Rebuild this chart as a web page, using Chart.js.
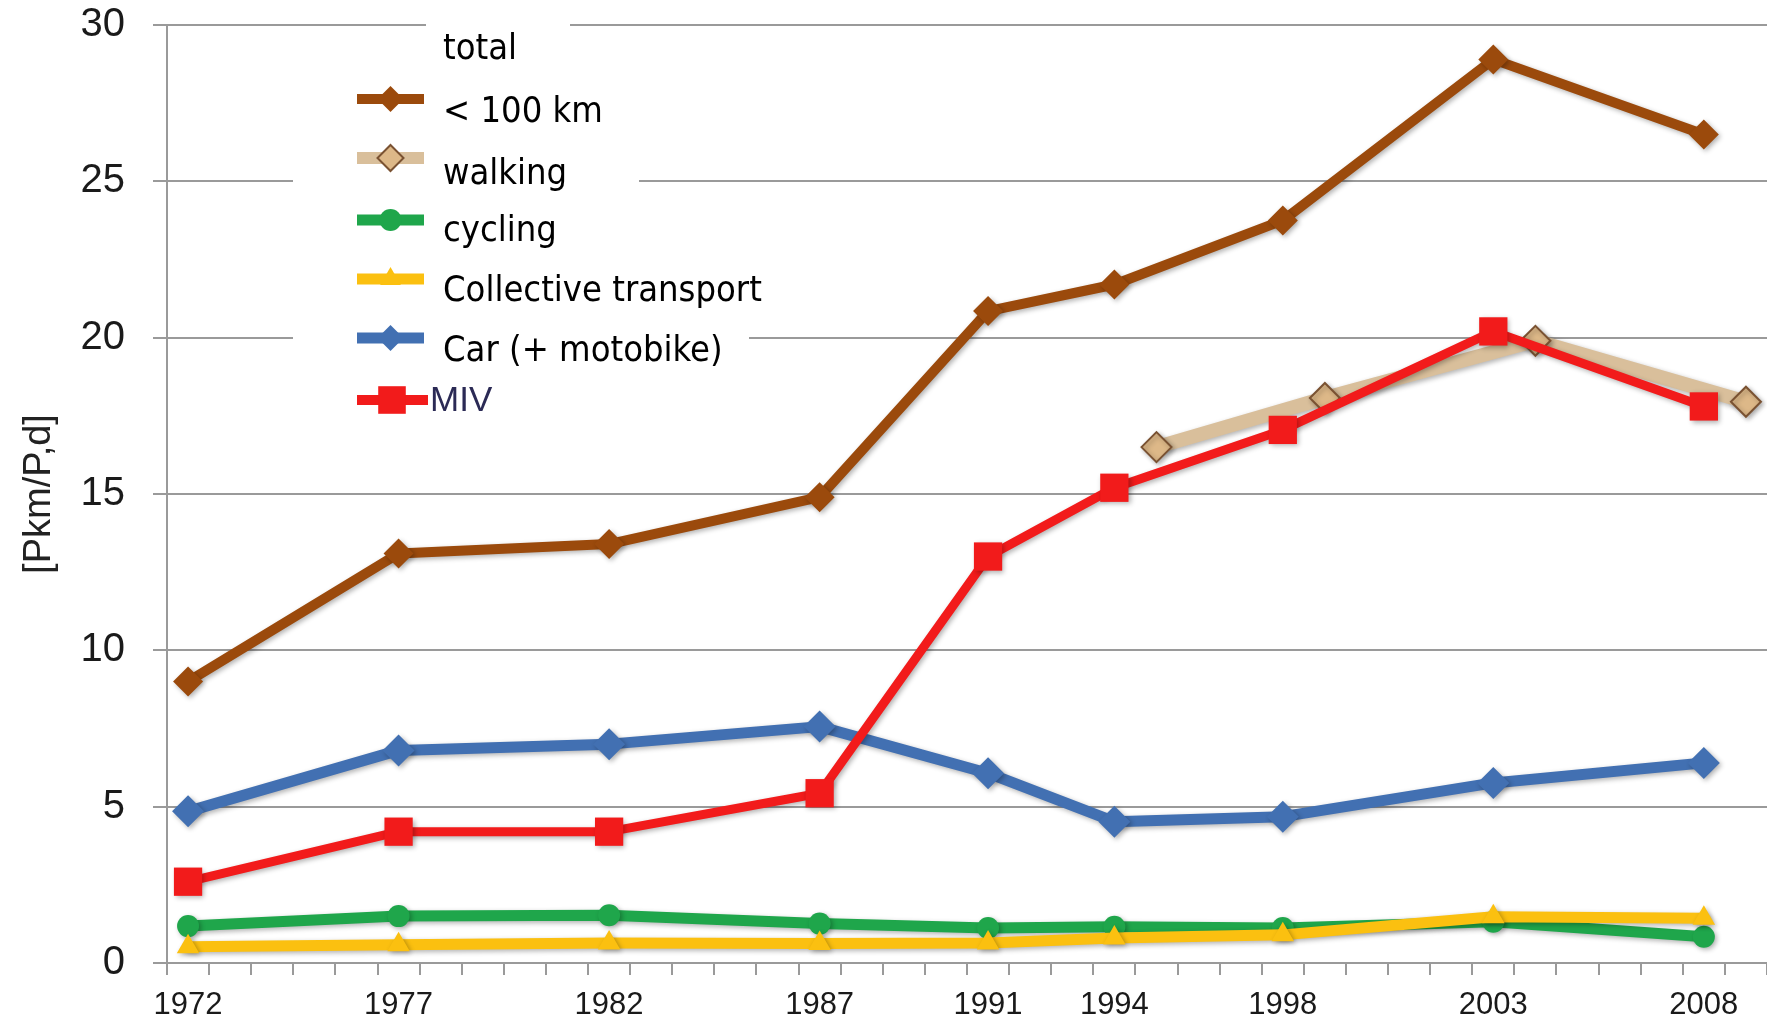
<!DOCTYPE html>
<html>
<head>
<meta charset="utf-8">
<script src="https://cdn.jsdelivr.net/npm/chart.js@4/dist/chart.umd.min.js"></script>
<style>
  html, body { margin: 0; padding: 0; background: #ffffff; }
  #wrap { width: 1767px; height: 1026px; position: relative; }
</style>
</head>
<body>
<div id="wrap"><canvas id="c" width="1767" height="1026"></canvas></div>
<script>
// ---------- data ----------
const years = [1972, 1977, 1982, 1987, 1991, 1994, 1998, 2003, 2008];
const walkingYears = [1995, 1999, 2004, 2009];
const totalValues = [9.0, 13.1, 13.4, 14.9, 20.85, 21.7, 23.75, 28.9, 26.5];
const walkingValues = [16.5, 18.07, 19.9, 17.95];
const cyclingValues = [1.18, 1.5, 1.53, 1.26, 1.12, 1.16, 1.12, 1.32, 0.84];
const collectiveValues = [0.52, 0.58, 0.64, 0.62, 0.64, 0.8, 0.9, 1.48, 1.43];
const carValues = [4.85, 6.8, 7.0, 7.56, 6.07, 4.52, 4.68, 5.76, 6.4];
const mivValues = [2.6, 4.2, 4.2, 5.43, 13.0, 15.2, 17.05, 20.2, 17.8];
const xLabelYears = [1972, 1977, 1982, 1987, 1991, 1994, 1998, 2003, 2008];
const yTickValues = [0, 5, 10, 15, 20, 25, 30];
const legendLabels = ['total', '< 100 km', 'walking', 'cycling', 'Collective transport', 'Car (+ motobike)', 'MIV'];
const yAxisTitle = '[Pkm/P,d]';

// ---------- fonts ----------
function fontAvailable(name) {
  const cv = document.createElement('canvas').getContext('2d');
  const s = 'abcdefghijklmnopqrstuvwxyz0123456789ABCDEFGHIJ';
  const res = [];
  for (const fb of ['monospace', 'serif']) {
    cv.font = '72px ' + fb; const a = cv.measureText(s).width;
    cv.font = '72px "' + name + '", ' + fb; const b = cv.measureText(s).width;
    res.push(a !== b);
  }
  return res[0] || res[1];
}
const hasNarrow = fontAvailable('Liberation Sans Narrow');
const hasCond = fontAvailable('DejaVu Sans Condensed');
const narrowFamily = hasNarrow ? '"Liberation Sans Narrow", "Liberation Sans", Arial, sans-serif' : '"Liberation Sans", Arial, sans-serif';
const yTickSize = hasNarrow ? 44 : 40;
const xTickSize = hasNarrow ? 35 : 31;
const legendFamily = hasCond ? '"DejaVu Sans Condensed", "DejaVu Sans", sans-serif' : '"DejaVu Sans", sans-serif';
const legendSize = hasCond ? 36 : 33;
const mivSize = hasNarrow ? 42 : 35;

// ---------- colors ----------
const BROWN = '#9B4A0C';
const TAN = '#D9BF9B';
const TAN_FILL = '#DDB888';
const TAN_EDGE = '#7A5232';
const GREEN = '#1FA64B';
const YELLOW = '#FBC010';
const BLUE = '#4270B2';
const RED = '#F21B1B';
const GRID = '#9a9a9a';

const pts = (xs, ys) => xs.map((x, i) => ({ x: x, y: ys[i] }));

const datasets = [
  { label: 'total < 100 km', data: pts(years, totalValues), borderColor: BROWN, backgroundColor: BROWN,
    borderWidth: 10, pointStyle: 'rectRot', pointRadius: 15, pointBorderWidth: 0, order: 2 },
  { label: 'walking', data: pts(walkingYears, walkingValues), borderColor: TAN, backgroundColor: TAN_FILL,
    borderWidth: 14, pointStyle: 'rectRot', pointRadius: 15, pointBorderWidth: 2, pointBorderColor: TAN_EDGE, order: 6 },
  { label: 'cycling', data: pts(years, cyclingValues), borderColor: GREEN, backgroundColor: GREEN,
    borderWidth: 11, pointStyle: 'circle', pointRadius: 11, pointBorderWidth: 0, order: 4 },
  { label: 'Collective transport', data: pts(years, collectiveValues), borderColor: YELLOW, backgroundColor: YELLOW,
    borderWidth: 11, pointStyle: 'triangle', pointRadius: 13, pointBorderWidth: 0, order: 3 },
  { label: 'Car (+ motobike)', data: pts(years, carValues), borderColor: BLUE, backgroundColor: BLUE,
    borderWidth: 11, pointStyle: 'rectRot', pointRadius: 16, pointBorderWidth: 0, order: 5 },
  { label: 'MIV', data: pts(years, mivValues), borderColor: RED, backgroundColor: RED,
    borderWidth: 9, pointStyle: 'rect', pointRadius: 20, pointBorderWidth: 0, order: 1 }
];
datasets.forEach(d => { d.xAxisID = 'x'; d.yAxisID = 'y'; d.tension = 0; d.fill = false; d.clip = false;
  d.pointHoverRadius = d.pointRadius; d.borderJoinStyle = 'round'; d.borderCapStyle = 'round';
  if (!d.pointBorderColor) d.pointBorderColor = d.backgroundColor; });

// ---------- helpers ----------
function drawMarker(ctx, style, x, y, r, fill, stroke, bw) {
  ctx.beginPath();
  if (style === 'rectRot') {
    ctx.moveTo(x, y - r); ctx.lineTo(x + r, y); ctx.lineTo(x, y + r); ctx.lineTo(x - r, y); ctx.closePath();
  } else if (style === 'rect') {
    const h = r * Math.SQRT1_2; ctx.rect(x - h, y - h, 2 * h, 2 * h);
  } else if (style === 'circle') {
    ctx.arc(x, y, r, 0, Math.PI * 2);
  } else if (style === 'triangle') {
    ctx.moveTo(x, y - r); ctx.lineTo(x + r * 0.866, y + r * 0.5); ctx.lineTo(x - r * 0.866, y + r * 0.5); ctx.closePath();
  }
  ctx.fillStyle = fill; ctx.fill();
  if (bw > 0) { ctx.lineWidth = bw; ctx.strokeStyle = stroke; ctx.stroke(); }
}

const shadowPlugin = {
  id: 'softShadow',
  beforeDatasetDraw(chart) {
    const ctx = chart.ctx; ctx.save();
    ctx.shadowColor = 'rgba(0,0,0,0.30)'; ctx.shadowBlur = 5; ctx.shadowOffsetX = 2; ctx.shadowOffsetY = 2;
  },
  afterDatasetDraw(chart) { chart.ctx.restore(); }
};

const legendPlugin = {
  id: 'boxLegend',
  beforeDatasetsDraw(chart) {
    const ctx = chart.ctx; ctx.save(); ctx.fillStyle = '#ffffff';
    ctx.fillRect(426, 10, 144, 62);
    ctx.fillRect(293, 72, 346, 238);
    ctx.fillRect(293, 310, 456, 112);
    ctx.restore();
  },
  afterDatasetsDraw(chart) {
    const ctx = chart.ctx; ctx.save();
    const ds = chart.data.datasets;
    const symX0 = 357, symX1 = 424, textX = 443;
    ctx.font = legendSize + 'px ' + legendFamily;
    ctx.fillStyle = '#000'; ctx.textBaseline = 'middle'; ctx.textAlign = 'left';
    ctx.fillText(legendLabels[0], textX, 50);
    const rows = [
      { d: 0, label: legendLabels[1], my: 99, ty: 113 },
      { d: 1, label: legendLabels[2], my: 158, ty: 175 },
      { d: 2, label: legendLabels[3], my: 220, ty: 232 },
      { d: 3, label: legendLabels[4], my: 279, ty: 292 },
      { d: 4, label: legendLabels[5], my: 338, ty: 352 }
    ];
    rows.forEach(r => {
      const d = ds[r.d];
      ctx.lineCap = 'butt';
      ctx.strokeStyle = d.borderColor; ctx.lineWidth = Math.min(d.borderWidth, 12);
      ctx.beginPath(); ctx.moveTo(symX0, r.my); ctx.lineTo(symX1, r.my); ctx.stroke();
      const rr = d.pointStyle === 'rectRot' ? 13 : (d.pointStyle === 'triangle' ? 12 : 11);
      drawMarker(ctx, d.pointStyle, (symX0 + symX1) / 2, r.my, rr, d.backgroundColor, d.pointBorderColor, d.pointBorderWidth);
      ctx.font = legendSize + 'px ' + legendFamily; ctx.fillStyle = '#000';
      ctx.fillText(r.label, textX, r.ty);
    });
    // MIV row
    const m = ds[5];
    ctx.strokeStyle = m.borderColor; ctx.lineWidth = 10;
    ctx.beginPath(); ctx.moveTo(symX0, 400); ctx.lineTo(428, 400); ctx.stroke();
    drawMarker(ctx, 'rect', 392, 400, 19.5, m.backgroundColor, m.backgroundColor, 0);
    ctx.font = mivSize + 'px ' + narrowFamily; ctx.fillStyle = '#2B2A55';
    ctx.fillText(legendLabels[6], 430, 401);
    ctx.restore();
  }
};

// ---------- chart ----------
const halfYearTicks = [];
for (let v = 1971.5; v <= 2009.5; v += 1) halfYearTicks.push(v);

new Chart(document.getElementById('c'), {
  type: 'line',
  data: { datasets: datasets },
  plugins: [shadowPlugin, legendPlugin],
  options: {
    responsive: false,
    animation: false,
    devicePixelRatio: 1,
    layout: { autoPadding: false, padding: { top: 25, right: 0, bottom: 0, left: 0 } },
    plugins: { legend: { display: false }, tooltip: { enabled: false } },
    scales: {
      x: {
        type: 'linear', position: 'bottom', weight: 0,
        min: 1971.5, max: 2009.5,
        afterBuildTicks: s => { s.ticks = halfYearTicks.map(v => ({ value: v })); },
        afterFit: s => { s.height = 12; s.paddingLeft = 0; s.paddingRight = 0; },
        grid: { display: true, drawOnChartArea: false, drawTicks: true, tickLength: 12, color: GRID, lineWidth: 2 },
        border: { display: true, color: GRID, width: 2 },
        ticks: { display: false, autoSkip: false }
      },
      x2: {
        type: 'linear', position: 'bottom', weight: 1,
        min: 1971.5, max: 2009.5,
        afterBuildTicks: s => { s.ticks = xLabelYears.map(v => ({ value: v })); },
        afterFit: s => { s.height = 51; s.paddingLeft = 0; s.paddingRight = 0; },
        grid: { display: false, drawTicks: false },
        border: { display: false },
        ticks: { autoSkip: false, maxRotation: 0, minRotation: 0, padding: 12,
          font: { family: narrowFamily, size: xTickSize }, color: '#1a1a1a',
          callback: v => String(v) }
      },
      y: {
        type: 'linear', position: 'left',
        min: 0, max: 30,
        afterBuildTicks: s => { s.ticks = yTickValues.map(v => ({ value: v })); },
        afterFit: s => { s.width = 167; s.paddingTop = 0; s.paddingBottom = 0; },
        grid: { display: true, drawOnChartArea: true, drawTicks: true, tickLength: 14, color: GRID, lineWidth: 2 },
        border: { display: true, color: GRID, width: 2 },
        ticks: { padding: 28, font: { family: narrowFamily, size: yTickSize }, color: '#1a1a1a' },
        title: { display: true, text: yAxisTitle, color: '#222', padding: { top: 17, bottom: 0 },
          font: { family: '"Liberation Sans", Arial, sans-serif', size: 38 } }
      }
    }
  }
});
</script>
</body>
</html>
